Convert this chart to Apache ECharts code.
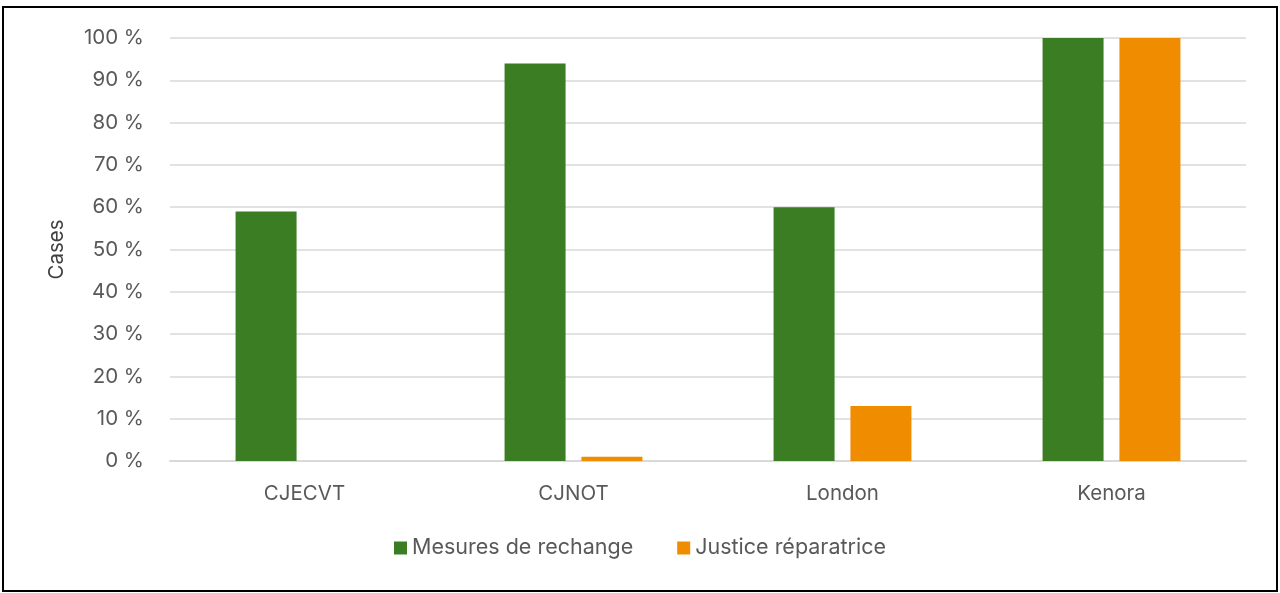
<!DOCTYPE html>
<html>
<head>
<meta charset="utf-8">
<script src="https://cdn.jsdelivr.net/npm/echarts@6/dist/echarts.min.js"></script>
<style>
  html, body { margin: 0; padding: 0; background: #fff; }
  .frame {
    position: absolute; left: 2px; top: 6px;
    width: 1272px; height: 582px;
    border: 2px solid #000;
  }
  .echarts_1 { position: absolute; left: 0; top: 0; width: 1280px; height: 593px; }
</style>
</head>
<body>
<div class="frame"></div>
<div class="echarts_1"></div>
<script>
// données du graphique
var categories = ['CJECVT', 'CJNOT', 'London', 'Kenora'];
var mesuresRechange = [59, 94, 60, 100];
var justiceReparatrice = [0, 1, 13, 100];
var seriesNames = ['Mesures de rechange', 'Justice réparatrice'];

var chart = echarts.init(document.querySelector('.echarts_1'));
var font = 'Inter, "Noto Sans", sans-serif';

var option = {
    animation: false,
    grid: { left: 170, right: 34, top: 38, bottom: 132 },
    legend: {
        data: seriesNames,
        bottom: 29,
        left: 'center',
        itemWidth: 13,
        itemHeight: 13,
        itemGap: 44,
        icon: 'rect',
        textStyle: { color: '#595959', fontSize: 21.5, fontFamily: font }
    },
    xAxis: {
        type: 'category',
        data: categories,
        axisTick: { show: false },
        axisLine: { lineStyle: { color: '#d9d9d9', width: 2 } },
        axisLabel: { color: '#595959', fontSize: 20.5, fontFamily: font, margin: 22 }
    },
    yAxis: {
        type: 'value',
        min: 0, max: 100, interval: 10,
        name: 'Cases',
        nameLocation: 'middle',
        nameGap: 103,
        nameTextStyle: { color: '#404040', fontSize: 20.5, fontFamily: font },
        axisLabel: { color: '#595959', fontSize: 20.5, fontFamily: font, margin: 26, formatter: '{value} %' },
        splitLine: { lineStyle: { color: '#d9d9d9', width: 1.5 } },
        axisLine: { show: false },
        axisTick: { show: false }
    },
    series: [
        {
            name: seriesNames[0],
            type: 'bar',
            data: mesuresRechange,
            barWidth: 61,
            barGap: '26%',
            itemStyle: { color: '#3a7d22' }
        },
        {
            name: seriesNames[1],
            type: 'bar',
            data: justiceReparatrice,
            barWidth: 61,
            itemStyle: { color: '#f08c00' }
        }
    ]
};

chart.setOption(option);
</script>
</body>
</html>
